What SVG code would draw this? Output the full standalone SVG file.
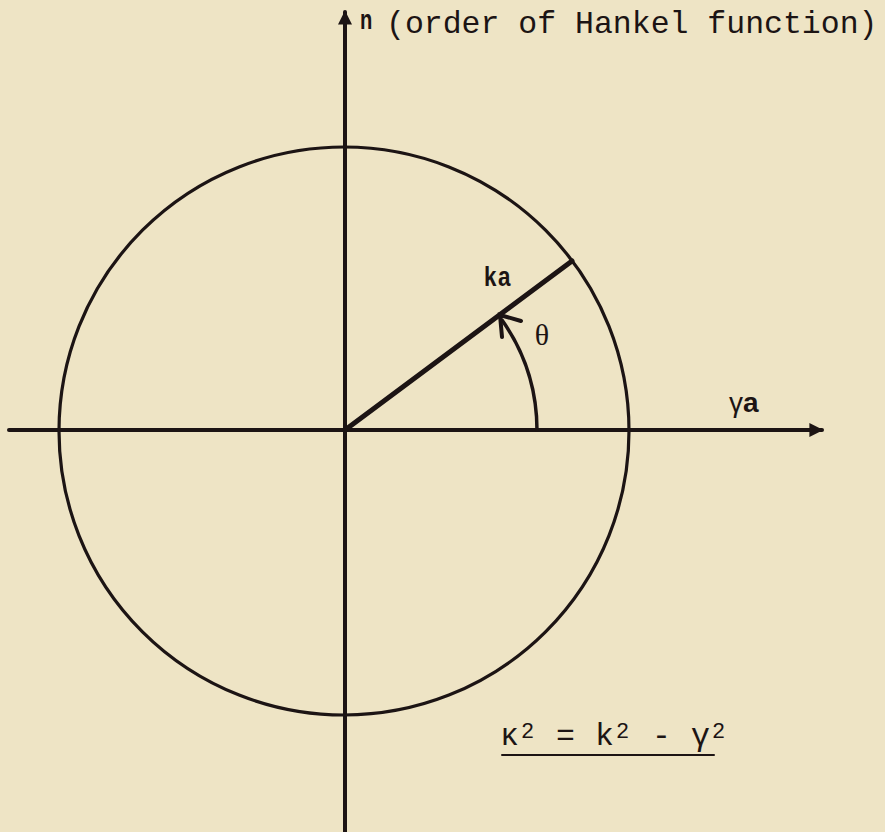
<svg xmlns="http://www.w3.org/2000/svg" width="885" height="832" viewBox="0 0 885 832">
<style>
.ln{stroke:#1c1414;fill:none;stroke-linecap:round}
.mono{font-family:"Liberation Mono","Courier New",monospace;fill:#1c1414}
.sans{font-family:"Liberation Sans",Arial,sans-serif;fill:#1c1414}
.serif{font-family:"Liberation Serif","Times New Roman",serif;fill:#1c1414}
</style>
<defs>
<marker id="ah" viewBox="0 0 10 10" refX="9" refY="5" markerWidth="5" markerHeight="3.5" orient="auto" markerUnits="strokeWidth">
<path d="M0,0 L10,5 L0,10 Z" fill="#1c1414"/>
</marker>
</defs>
<rect width="885" height="832" fill="#EEE4C5"/>
<g id="connectors">
<line class="ln" x1="345" y1="832" x2="345" y2="12" stroke-width="4" marker-end="url(#ah)"/>
<line class="ln" x1="9" y1="430" x2="822" y2="430" stroke-width="4" marker-end="url(#ah)"/>
<line class="ln" x1="345" y1="430" x2="572" y2="261" stroke-width="5"/>
<path class="ln" d="M537,430 A192,192 0 0 0 502,320" stroke-width="3.5"/>
<path class="ln" d="M502,337 L500,315 L521,321" stroke-width="4"/>
</g>
<g id="circle">
<ellipse class="ln" cx="344" cy="431" rx="285" ry="284" stroke-width="3.2"/>
</g>
<g id="label-n">
<text class="sans" x="360" y="29" font-size="28" font-weight="bold" transform="translate(360,29) scale(0.72,1) translate(-360,-29)">n</text>
<text class="mono" x="386" y="33" font-size="31.5">(order of Hankel function)</text>
</g>
<g id="label-ka">
<text class="sans" x="484" y="286" font-size="28" font-weight="bold" letter-spacing="2" transform="translate(484,286) scale(0.8,1) translate(-484,-286)">ka</text>
</g>
<g id="label-theta">
<text class="serif" x="542" y="345" font-size="30" text-anchor="middle">θ</text>
</g>
<g id="label-gamma-a">
<text class="sans" x="729" y="412" font-size="28">γ<tspan font-weight="bold">a</tspan></text>
</g>
<g id="formula">
<text class="mono" y="745" font-size="31.5"><tspan x="500">κ</tspan><tspan x="556">=</tspan><tspan x="595">k</tspan><tspan x="652">-</tspan><tspan x="691">γ</tspan></text>
<text class="mono" y="738" font-size="22"><tspan x="521">2</tspan><tspan x="616">2</tspan><tspan x="712">2</tspan></text>
<line class="ln" x1="502" y1="755" x2="714" y2="755" stroke-width="2"/>
</g>
</svg>
